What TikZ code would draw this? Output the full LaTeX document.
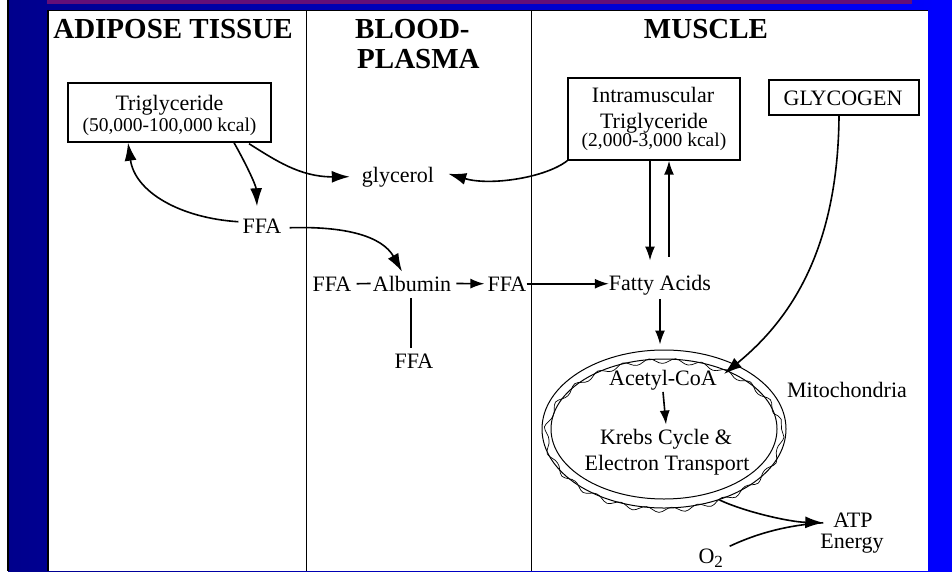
\documentclass[tikz,border=0pt]{standalone}
\usepackage{fontspec}
\setmainfont{Liberation Serif}
\usetikzlibrary{arrows.meta,shapes.geometric,decorations.pathmorphing,calc}
\definecolor{bgL}{RGB}{0,0,140}
\definecolor{bgR}{RGB}{0,0,255}
\definecolor{topbar}{RGB}{100,15,120}
\begin{document}
\begin{tikzpicture}[x=1pt,y=-1pt,
  lbl/.style={inner sep=0pt, anchor=base, font=\fontsize{22}{24}\selectfont},
  small/.style={inner sep=0pt, anchor=base, font=\fontsize{19.5}{22}\selectfont},
  hdr/.style={inner sep=0pt, anchor=base, font=\fontsize{29}{30}\selectfont\bfseries},
  box/.style={draw, line width=1.4pt, inner sep=0pt},
  con/.style={line width=1.6pt},
  arr/.style={con, -{Latex[length=18pt,width=12pt]}},
  sarr/.style={con, -{Latex[length=14pt,width=10pt]}},
  memb/.style={line width=1pt},
]
\useasboundingbox (0,0) rectangle (952,571);
% background
\fill[white] (0,0) rectangle (952,571);
\shade[left color=bgL, right color=bgR] (8,0) rectangle (952,571);
\fill[black] (7,0) rectangle (9,571);
\fill[topbar] (47,0) rectangle (912,3.5);
\fill[white] (48,10.5) rectangle (928,571);
\draw[line width=1.2pt] (48,571) -- (48,10.5) -- (928,10.5);
\draw[line width=1.6pt] (306.5,11) -- (306.5,571);
\draw[line width=1.6pt] (531.5,11) -- (531.5,571);

% headers
\node[hdr] (hadi) at (173,38) {ADIPOSE TISSUE};
\node[hdr, anchor=base west] (hbl1) at (355,38) {BLOOD-};
\node[hdr, anchor=base west] (hbl2) at (357,68) {PLASMA};
\node[hdr] (hmus) at (706,38) {MUSCLE};

% boxes
\node[box, minimum width=203pt, minimum height=59pt] (tg) at (169.5,112.5) {};
\node[lbl] (tgt1) at (169.5,110) {Triglyceride};
\node[small] (tgt2) at (169.5,131) {(50,000-100,000 kcal)};

\node[box, minimum width=172pt, minimum height=82pt] (imtg) at (654,119) {};
\node[lbl] (imt1) at (653,102) {Intramuscular};
\node[lbl] (imt2) at (654,128) {Triglyceride};
\node[small] (imt3) at (654,146) {(2,000-3,000 kcal)};

\node[box, minimum width=150pt, minimum height=35pt] (gly) at (844,97.5) {};
\node[lbl] (glyt) at (843,105) {GLYCOGEN};

% labels
\node[lbl] (ffa1) at (262,233) {FFA};
\node[lbl] (glyc) at (398,182) {glycerol};
\node[lbl] (ffa2) at (332,291) {FFA};
\node[lbl] (alb) at (412,291) {Albumin};
\node[lbl] (ffa3) at (507,291) {FFA};
\node[lbl] (ffa4) at (414,368) {FFA};
\node[lbl] (fatty) at (660,290) {Fatty Acids};

% mitochondrion
\node[draw, ellipse, memb, minimum width=244pt, minimum height=158pt, inner sep=0pt] (mito) at (664,429) {};
\draw[memb] (mito.center) ellipse [x radius=113, y radius=70];
\draw[line width=0.7pt, decorate, decoration={snake, amplitude=2.5pt, segment length=26pt}] (mito.center) ellipse [x radius=117.5, y radius=74.5];
\node[lbl] (acet) at (663,385) {Acetyl-CoA};
\node[lbl] (krebs1) at (666,444) {Krebs Cycle \&};
\node[lbl] (krebs2) at (667,470) {Electron Transport};
\node[lbl] (mitot) at (847,397) {Mitochondria};
\node[lbl] (atp) at (853,527) {ATP};
\node[lbl] (energy) at (852,548) {Energy};
\node[lbl] (o2) at (711,563) {O\textsubscript{\fontsize{17}{18}\selectfont 2}};

% connectors
\draw[arr] ($(ffa1.west)+(-4,-4)$) .. controls (180,218) and (135,192) .. ($(tg.south)+(-41.5,0)$);
\draw[arr] ($(tg.south)+(64.5,0)$) .. controls (245,162) and (256,185) .. ($(ffa1.north)+(-5,-12)$);
\draw[arr] ($(tg.south)+(79.5,1)$) .. controls (275,160) and (300,177) .. ($(glyc.west)+(-12,0)$);
\draw[arr] (imtg.south west) .. controls (545,178) and (490,186) .. ($(glyc.east)+(14,-3)$);
\draw[arr] ($(ffa1.east)+(8,2)$) .. controls (345,226) and (382,236) .. ($(alb.north)+(-10,-4)$);
\draw[con] ($(ffa2.east)+(5,0)$) -- ($(alb.west)+(-2,0)$);
\draw[sarr] ($(alb.east)+(5,0)$) -- ($(ffa3.west)+(-3,0)$);
\draw[con, line width=1.2pt] ($(alb.south)+(-1,7)$) -- ($(ffa4.north)+(-3,-5)$);
\draw[sarr] (ffa3.east) -- (ffa3.east -| fatty.west);
\draw[sarr] ($(imtg.south)+(-4,0)$) -- ($(fatty.north)+(-10,-14)$);
\draw[sarr] ($(fatty.north)+(9,-18)$) -- ($(imtg.south)+(15,0)$);
\draw[sarr] ($(fatty.south)+(0,4)$) -- ($(mito.north)+(-4,-5)$);
\draw[arr] ($(gly.south)+(-5,0)$) .. controls (838,250) and (790,320) .. ($(acet.north east)+(7,4.5)$);
\draw[sarr] ($(acet.south)+(0,2)$) -- ($(krebs1.north)+(0,-4)$);
\draw[arr] (mito.-52) .. controls (745,512) and (790,522) .. ($(atp.west)+(-10,3)$);
\draw[con] ($(o2.north east)+(6,-2)$) .. controls (760,532) and (790,525) .. ($(atp.west)+(-10,3)$);
\end{tikzpicture}
\end{document}
